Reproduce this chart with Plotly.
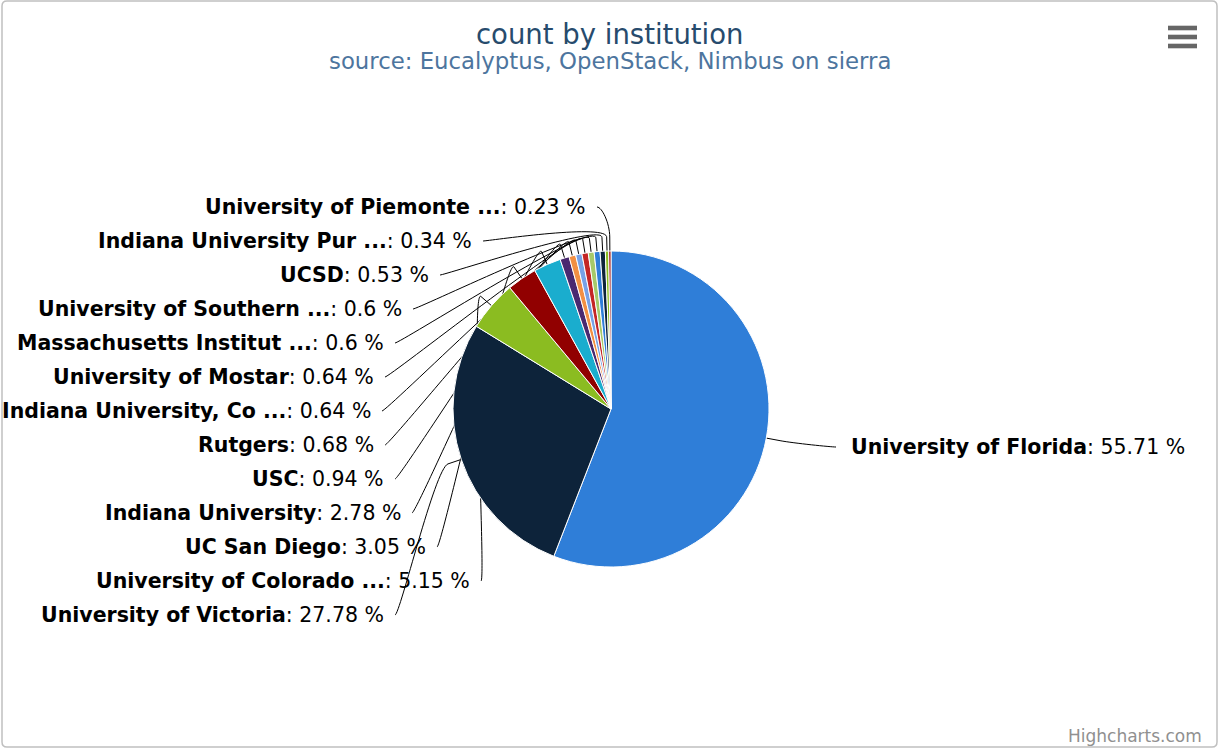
import math
import plotly.graph_objects as go

# ---------------- data ----------------
institutions = [
    "University of Florida",
    "University of Victoria",
    "University of Colorado ...",
    "UC San Diego",
    "Indiana University",
    "USC",
    "Rutgers",
    "Indiana University, Co ...",
    "University of Mostar",
    "Massachusetts Institut ...",
    "University of Southern ...",
    "UCSD",
    "Indiana University Pur ...",
    "University of Piemonte ...",
]
percent = [55.71, 27.78, 5.15, 3.05, 2.78, 0.94, 0.68, 0.64, 0.64, 0.6, 0.6, 0.53, 0.34, 0.23]
slice_colors = ["#2f7ed8", "#0d233a", "#8bbc21", "#910000", "#1aadce", "#492970",
                "#f28f43", "#77a1e5", "#c42525", "#a6c96a", "#2f7ed8", "#0d233a",
                "#8bbc21", "#910000"]

title_text = "count by institution"
subtitle_text = "source: Eucalyptus, OpenStack, Nimbus on sierra"
credit_text = "Highcharts.com"

# ---------------- layout constants (pixels) ----------------
W, H = 1219, 749
CX, CY, R = 611, 409, 158
OFF = 14                 # connector offset outside the pie
SLOT_TOP, SLOT_STEP = 207, 34
# left-hand labels are stacked from the top (last slice) to the bottom
left_conn_x = [597, 483, 440, 413, 395, 385, 382, 385, 395, 412, 437, 481, 395]
right_conn = (836, 447)
FONT = "DejaVu Sans"
LABEL_SIZE = 20.5


def px(x):
    return x / W


def py(y):
    return 1 - y / H


fig = go.Figure(go.Pie(
    labels=institutions,
    values=percent,
    sort=False,
    direction="clockwise",
    rotation=0,
    marker=dict(colors=slice_colors, line=dict(color="#ffffff", width=1)),
    textinfo="none",
    hoverinfo="label+value",
    showlegend=False,
    domain=dict(x=[px(CX - R), px(CX + R)], y=[py(CY + R), py(CY - R)]),
))

total = sum(percent)
cum = 0.0
mids = []
for v in percent:
    mids.append((cum + v / 2) / total * 2 * math.pi)
    cum += v

shapes = []
annotations = []


def connector(theta, lx, ly, side):
    dx, dy = math.sin(theta), -math.cos(theta)
    p3 = (CX + R * dx, CY + R * dy)
    p2 = (CX + (R + OFF) * dx, CY + (R + OFF) * dy)
    c2 = (2 * p2[0] - p3[0], 2 * p2[1] - p3[1])
    c1 = (lx + 5 * side, ly)
    path = (f"M {px(lx)} {py(ly)} C {px(c1[0])} {py(c1[1])}, {px(c2[0])} {py(c2[1])}, "
            f"{px(p2[0])} {py(p2[1])} L {px(p3[0])} {py(p3[1])}")
    return dict(type="path", path=path, xref="paper", yref="paper", layer="below",
                line=dict(color="#000000", width=1))


def label_text(name, val):
    return f"<b>{name}</b>: {val} %"


# right label: first slice
shapes.append(connector(mids[0], right_conn[0], right_conn[1], -1))
annotations.append(dict(x=px(right_conn[0] + 13), y=py(right_conn[1]), xref="paper", yref="paper",
                        text=label_text(institutions[0], percent[0]), showarrow=False,
                        xanchor="left", yanchor="middle",
                        font=dict(family=FONT, size=LABEL_SIZE, color="#000000")))

# left labels
left_idx = list(range(len(percent) - 1, 0, -1))
for slot, i in enumerate(left_idx):
    ly = SLOT_TOP + SLOT_STEP * slot
    lx = left_conn_x[slot]
    shapes.append(connector(mids[i], lx, ly, 1))
    annotations.append(dict(x=px(lx - 9), y=py(ly), xref="paper", yref="paper",
                            text=label_text(institutions[i], percent[i]), showarrow=False,
                            xanchor="right", yanchor="middle",
                            font=dict(family=FONT, size=LABEL_SIZE, color="#000000")))

# titles and credits
annotations.append(dict(x=0.5, y=py(34), xref="paper", yref="paper", text=title_text,
                        showarrow=False, xanchor="center", yanchor="middle",
                        font=dict(family=FONT, size=27.5, color="#274b6d")))
annotations.append(dict(x=0.5, y=py(61), xref="paper", yref="paper", text=subtitle_text,
                        showarrow=False, xanchor="center", yanchor="middle",
                        font=dict(family=FONT, size=22.8, color="#4d759e")))
annotations.append(dict(x=px(1204), y=py(736), xref="paper", yref="paper", text=credit_text,
                        showarrow=False, xanchor="right", yanchor="middle",
                        font=dict(family=FONT, size=17, color="#909090")))

# chart border (rounded)
rr = 5
x0, y0, x1, y1 = 2, 1, 1217, 747
border = (f"M {px(x0 + rr)} {py(y0)} L {px(x1 - rr)} {py(y0)} Q {px(x1)} {py(y0)} {px(x1)} {py(y0 + rr)} "
          f"L {px(x1)} {py(y1 - rr)} Q {px(x1)} {py(y1)} {px(x1 - rr)} {py(y1)} "
          f"L {px(x0 + rr)} {py(y1)} Q {px(x0)} {py(y1)} {px(x0)} {py(y1 - rr)} "
          f"L {px(x0)} {py(y0 + rr)} Q {px(x0)} {py(y0)} {px(x0 + rr)} {py(y0)} Z")
shapes.append(dict(type="path", path=border, xref="paper", yref="paper", layer="below",
                   line=dict(color="#c0c0c0", width=1.5)))

# export menu icon
for yc in (28, 37, 46):
    shapes.append(dict(type="rect", xref="paper", yref="paper",
                       x0=px(1168), x1=px(1197), y0=py(yc - 2.3), y1=py(yc + 2.3),
                       fillcolor="#666666", line=dict(width=0)))

fig.update_layout(
    width=W, height=H, autosize=False,
    margin=dict(l=0, r=0, t=0, b=0),
    paper_bgcolor="#ffffff",
    plot_bgcolor="#ffffff",
    shapes=shapes,
    annotations=annotations,
    font=dict(family=FONT),
)

fig.write_html("out.html", config={"displayModeBar": False},
               post_script="document.body.style.margin='0';document.body.style.overflow='hidden';")
